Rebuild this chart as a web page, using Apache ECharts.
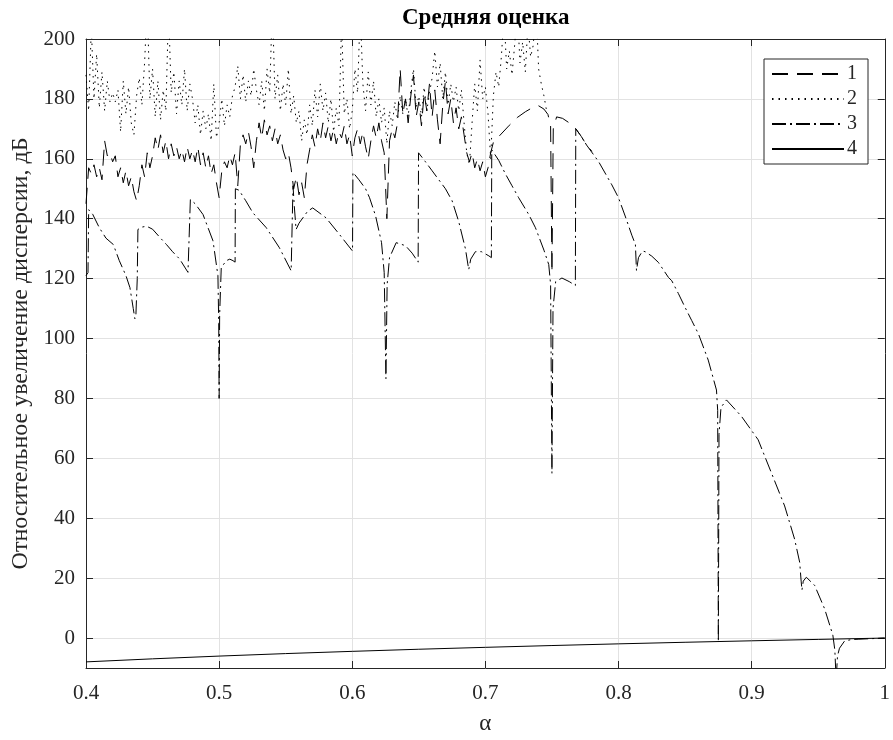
<!DOCTYPE html>
<html>
<head>
<meta charset="utf-8">
<script src="https://cdn.jsdelivr.net/npm/echarts@6/dist/echarts.min.js"></script>
<style>
  html, body { margin: 0; padding: 0; background: #fff; }
  #chart { width: 893px; height: 740px; }
</style>
</head>
<body>
<div id="chart"></div>
<script>
// Axis ticks
const xTicks = [0.4, 0.5, 0.6, 0.7, 0.8, 0.9, 1];
const xTickLabels = ['0.4', '0.5', '0.6', '0.7', '0.8', '0.9', '1'];
const yTicks = [0, 20, 40, 60, 80, 100, 120, 140, 160, 180, 200];

const seriesNames = ['1', '2', '3', '4'];

// Noisy segments are sampled on a regular alpha grid
const noiseStart = 0.4;
const noiseStep = 0.002;

// Estimate 1: noisy part (alpha 0.400 ... 0.704)
const est1Noisy = [
  145, 157, 155, 158, 154, 157, 153, 166, 161, 162,
  159, 161, 154, 157, 152, 156, 151, 154, 149, 146,
  151, 158, 154, 162, 157, 161, 167, 163, 168, 162,
  166, 160, 165, 161, 164, 160, 163, 159, 164, 160,
  163, 159, 164, 158, 162, 157, 161, 155, 158, 152,
  147, 156, 159, 157, 161, 158, 162, 151, 165, 168,
  165, 169, 164, 157, 166, 172, 167, 173, 168, 171,
  166, 170, 165, 168, 163, 160, 162, 157, 150, 154,
  148, 152, 147, 158, 163, 168, 164, 170, 166, 172,
  167, 171, 166, 170, 165, 169, 167, 171, 165, 168,
  161, 167, 170, 165, 169, 164, 160, 166, 171, 167,
  172, 166, 162, 140, 166, 170, 167, 172, 190, 175,
  180, 172, 181, 188, 174, 179, 171, 182, 176, 185,
  174, 183, 173, 165, 178, 186, 175, 180, 172, 177,
  170, 174, 168, 162, 159, 162, 157, 160, 156, 159,
  154, 157, 162
];
// Estimate 1: smooth part [alpha, dB]
const est1Smooth = [
  [0.706, 165.5], [0.710, 167.4], [0.718, 171.2], [0.724, 173.8], [0.730, 175.7],
  [0.735, 177.0], [0.740, 177.7], [0.744, 176.6], [0.747, 174.8], [0.749, 171.0],
  [0.750, 122.0], [0.751, 170.0], [0.7535, 174.0], [0.758, 173.5], [0.763, 172.0],
  [0.768, 170.0], [0.772, 167.5], [0.776, 164.6], [0.780, 162.5]
];

// Estimate 2: noisy part (alpha 0.400 ... 0.746)
const est2Noisy = [
  188, 176, 204, 180, 195, 177, 189, 176, 186, 179,
  182, 179, 183, 169, 186, 175, 184, 172, 168, 181,
  187, 178, 192, 212, 180, 190, 174, 186, 173, 183,
  176, 210, 182, 189, 175, 186, 178, 190, 176, 185,
  180, 172, 178, 168, 176, 170, 175, 166, 185, 167,
  172, 180, 171, 178, 174, 181, 184, 191, 180, 188,
  179, 186, 181, 190, 183, 178, 186, 176, 190, 182,
  212, 180, 188, 176, 185, 178, 190, 175, 181, 172,
  176, 166, 173, 168, 178, 171, 183, 174, 185, 176,
  182, 172, 180, 169, 177, 171, 206, 175, 180, 170,
  176, 190, 182, 210, 185, 176, 189, 178, 186, 174,
  180, 172, 177, 165, 176, 171, 179, 173, 181, 175,
  180, 174, 183, 190, 177, 181, 174, 184, 176, 182,
  187, 196, 184, 192, 180, 189, 178, 185, 179, 184,
  176, 183, 172, 162, 158, 172, 185, 176, 193, 180,
  184, 175, 160, 181, 189, 184, 194, 208, 190, 196,
  188, 198, 210, 192, 199, 189, 205, 194, 198, 212,
  190, 185, 181, 176
];

// Estimate 3 [alpha, dB]
const est3 = [
  [0.400, 121], [0.4015, 122], [0.402, 143], [0.405, 141.5], [0.410, 137], [0.415, 133.5],
  [0.4205, 131.4], [0.425, 126], [0.430, 121], [0.433, 117], [0.4355, 110], [0.4367, 106.6],
  [0.4375, 108], [0.4385, 120], [0.439, 136.4], [0.442, 137.2], [0.4455, 137.5], [0.450, 136.5],
  [0.455, 134], [0.4604, 131.4], [0.465, 129], [0.4704, 126.5], [0.4766, 122.1], [0.478, 121.5],
  [0.4784, 146.4], [0.482, 145], [0.4879, 141.4], [0.4954, 132.6], [0.4991, 121], [0.4997, 105],
  [0.500, 80], [0.5004, 108], [0.5016, 123.7], [0.5054, 126], [0.508, 126.5], [0.5104, 126],
  [0.512, 125.5], [0.5122, 150], [0.515, 149.5], [0.520, 146], [0.5253, 142], [0.5354, 137],
  [0.5453, 130.3], [0.5541, 122.6], [0.5552, 122], [0.5555, 151], [0.5565, 144], [0.5578, 136.4],
  [0.560, 138.5], [0.5665, 142.5], [0.5703, 143.6], [0.5803, 140.3], [0.5903, 134.8], [0.6002, 129.2],
  [0.6005, 155.5], [0.605, 153], [0.610, 150], [0.613, 147], [0.6175, 141], [0.622, 132],
  [0.624, 122], [0.6253, 86.6], [0.6262, 118], [0.628, 127], [0.633, 132], [0.640, 131],
  [0.645, 128.5], [0.6495, 125.5], [0.6498, 162], [0.655, 159], [0.660, 156], [0.665, 153],
  [0.670, 150], [0.675, 146], [0.680, 139], [0.685, 130], [0.6875, 123], [0.689, 126.5],
  [0.6925, 129], [0.697, 129], [0.7026, 127.6], [0.7045, 127], [0.7048, 163], [0.710, 159.5],
  [0.715, 155], [0.720, 151], [0.725, 147], [0.7326, 141.4], [0.7376, 137], [0.744, 129.5],
  [0.7476, 124.7], [0.749, 118], [0.750, 55], [0.7508, 110], [0.7528, 119], [0.7575, 120.2],
  [0.763, 119], [0.7676, 117.7], [0.7679, 170], [0.772, 167.5], [0.776, 164.6], [0.785, 159.1],
  [0.795, 151.3], [0.800, 147], [0.805, 140.9], [0.810, 134.5], [0.8127, 131.4], [0.8135, 122.7],
  [0.815, 127], [0.818, 129.2], [0.820, 129], [0.825, 127.5], [0.830, 125.4], [0.8375, 120.4],
  [0.840, 119.3], [0.845, 115], [0.850, 110.4], [0.855, 106], [0.860, 101.6], [0.8674, 92.8],
  [0.8736, 82.8], [0.8745, 76], [0.875, -1.2], [0.8755, 68], [0.877, 77], [0.8811, 79.5],
  [0.8924, 74], [0.9049, 66.2], [0.9148, 55.2], [0.9248, 44.1], [0.9323, 33], [0.9361, 25.3],
  [0.9372, 19], [0.9378, 16], [0.9388, 19], [0.9411, 20.3], [0.9473, 17.6], [0.9548, 9.8],
  [0.961, 1], [0.9625, -4], [0.9635, -14], [0.9645, -6], [0.966, -3.4], [0.9698, -1],
  [0.975, -0.5], [0.980, -0.4], [0.990, -0.2], [1.000, 0]
];

// Estimate 4 [alpha, dB]
const est4 = [
  [0.40, -7.96], [0.45, -6.94], [0.50, -6.02], [0.55, -5.19], [0.60, -4.44], [0.65, -3.74],
  [0.70, -3.10], [0.75, -2.50], [0.80, -1.94], [0.85, -1.41], [0.90, -0.92], [0.95, -0.45],
  [1.00, 0.00]
];

function onGrid(values) {
  return values.map((v, i) => [+(noiseStart + i * noiseStep).toFixed(3), v]);
}

const series1 = onGrid(est1Noisy).concat(est1Smooth);
const series2 = onGrid(est2Noisy);

const FONT = '"Liberation Serif", "DejaVu Serif", serif';
const AX = '#262626';
const GRID = '#e2e2e2';

function lineSeries(name, data, dash, z) {
  return {
    name: name,
    type: 'line',
    data: data,
    showSymbol: false,
    symbol: 'none',
    clip: true,
    z: z,
    itemStyle: { color: '#000' },
    lineStyle: { color: '#000', width: 1, type: dash },
    emphasis: { disabled: true },
    animation: false
  };
}

const chart = echarts.init(document.getElementById('chart'), null, { renderer: 'canvas' });

chart.setOption({
  backgroundColor: '#fff',
  animation: false,
  title: {
    text: 'Средняя оценка',
    left: 402,
    top: 7,
    padding: 0,
    textStyle: { fontFamily: FONT, fontSize: 23, fontWeight: 'bold', color: '#000' }
  },
  legend: {
    orient: 'vertical',
    right: 25,
    top: 59,
    padding: [5, 11, 5, 7],
    itemWidth: 72,
    itemHeight: 20,
    itemGap: 5,
    backgroundColor: '#fff',
    borderColor: AX,
    borderWidth: 1,
    borderRadius: 0,
    data: seriesNames,
    itemStyle: { opacity: 0 },
    textStyle: { fontFamily: FONT, fontSize: 20, color: AX, padding: [0, 0, 0, -2] }
  },
  grid: { left: 86, right: 5, top: 39, bottom: 69, containLabel: false },
  xAxis: [
    {
      type: 'value', position: 'bottom',
      min: 0.4, max: 1, interval: 0.1,
      name: 'α', nameLocation: 'middle', nameGap: 44,
      nameTextStyle: { fontFamily: FONT, fontSize: 23, color: AX },
      axisLine: { show: true, onZero: false, lineStyle: { color: AX, width: 1 } },
      axisTick: { show: true, inside: true, length: 7, lineStyle: { color: AX } },
      axisLabel: {
        fontFamily: FONT, fontSize: 21, color: AX, margin: 15,
        formatter: v => xTickLabels[xTicks.findIndex(t => Math.abs(t - v) < 1e-9)] ?? ''
      },
      splitLine: { show: true, lineStyle: { color: GRID, width: 1 } }
    },
    {
      type: 'value', position: 'top',
      min: 0.4, max: 1, interval: 0.1,
      axisLine: { show: true, onZero: false, lineStyle: { color: AX, width: 1 } },
      axisTick: { show: true, inside: true, length: 7, lineStyle: { color: AX } },
      axisLabel: { show: false },
      splitLine: { show: false }
    }
  ],
  yAxis: [
    {
      type: 'value', position: 'left',
      min: -10, max: 200,
      name: 'Относительное увеличение дисперсии, дБ',
      nameLocation: 'middle', nameGap: 50, nameRotate: 90,
      nameTextStyle: { fontFamily: FONT, fontSize: 24, color: AX },
      axisLine: { show: true, onZero: false, lineStyle: { color: AX, width: 1 } },
      axisTick: { show: true, inside: true, length: 7, customValues: yTicks, lineStyle: { color: AX } },
      axisLabel: { fontFamily: FONT, fontSize: 21, color: AX, margin: 11, customValues: yTicks },
      splitLine: { show: true, lineStyle: { color: GRID, width: 1 } }
    },
    {
      type: 'value', position: 'right',
      min: -10, max: 200,
      axisLine: { show: true, onZero: false, lineStyle: { color: AX, width: 1 } },
      axisTick: { show: true, inside: true, length: 7, customValues: yTicks, lineStyle: { color: AX } },
      axisLabel: { show: false },
      splitLine: { show: false }
    }
  ],
  series: [
    lineSeries(seriesNames[0], series1, [16, 9], 4),
    lineSeries(seriesNames[1], series2, [1.5, 5], 3),
    lineSeries(seriesNames[2], est3, [14, 4, 2, 4], 5),
    lineSeries(seriesNames[3], est4, 'solid', 6)
  ]
});
</script>
</body>
</html>
